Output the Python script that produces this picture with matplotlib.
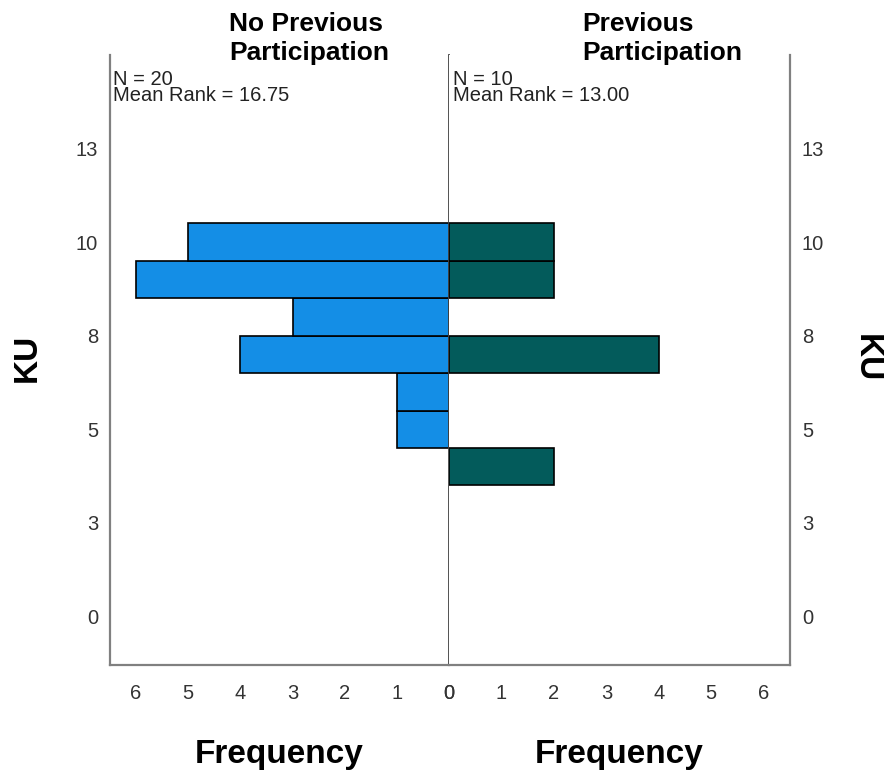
import numpy as np
import matplotlib.pyplot as plt

plt.rcParams['font.family'] = ['Liberation Sans', 'DejaVu Sans']

# KU score bins and frequency per group
ku_no_prev = [5, 6, 7, 8, 9, 10]
freq_no_prev = [1, 1, 4, 3, 6, 5]
ku_prev = [4, 7, 9, 10]
freq_prev = [2, 4, 2, 2]

mean_rank_no_prev = 16.75
mean_rank_prev = 13.00

y_ticks = [0, 2.5, 5, 7.5, 10, 12.5]
y_ticklabels = ['0', '3', '5', '8', '10', '13']
x_ticks = [0, 1, 2, 3, 4, 5, 6]

blue = '#148ee6'
teal = '#035b5b'
frame = '#808080'

W, H = 893, 772
fig = plt.figure(figsize=(W / 100, H / 100), dpi=100)

def px(x0, y0, x1, y1):
    return [x0 / W, 1 - y1 / H, (x1 - x0) / W, (y1 - y0) / H]

ax1 = fig.add_axes(px(110, 55, 449, 665))
ax2 = fig.add_axes(px(449, 55, 790, 665))

ax1.barh(ku_no_prev, freq_no_prev, height=1.0, color=blue, edgecolor='black', linewidth=1.2, zorder=2)
ax2.barh(ku_prev, freq_prev, height=1.0, color=teal, edgecolor='black', linewidth=1.2, zorder=2)

ax1.set_xlim(6.5, 0)
ax2.set_xlim(0, 6.5)
for ax in (ax1, ax2):
    ax.set_ylim(-1.3, 15.0)
    ax.set_xticks(x_ticks)
    ax.set_xticklabels([str(t) for t in x_ticks])
    ax.set_yticks(y_ticks)
    ax.set_yticklabels(y_ticklabels)
    ax.tick_params(length=0, labelsize=14.5, labelcolor='#333333')
    ax.tick_params(axis='x', pad=14)
    ax.tick_params(axis='y', pad=8.5)
    ax.spines['top'].set_visible(False)
    for s in ('left', 'right', 'bottom'):
        ax.spines[s].set_color(frame)
        ax.spines[s].set_linewidth(1.6)

ax1.spines['right'].set_color('#444444')
ax1.spines['right'].set_linewidth(1.3)
ax1.spines['right'].set_zorder(3)
ax2.spines['left'].set_visible(False)
ax2.yaxis.tick_right()

# group headers
title_kw = dict(fontsize=19, fontweight='bold', ha='left', va='baseline')
fig.text(229 / W, 1 - 31 / H, 'No Previous', **title_kw)
fig.text(229 / W, 1 - 60 / H, 'Participation', **title_kw)
fig.text(582 / W, 1 - 31 / H, 'Previous', **title_kw)
fig.text(582 / W, 1 - 60 / H, 'Participation', **title_kw)

# sample size and mean rank, two tight lines per group (baseline = last line)
info_kw = dict(fontsize=14.5, ha='left', va='baseline', color='#222222', linespacing=0.8)
fig.text(113 / W, 1 - 101 / H,
         f'N = {sum(freq_no_prev)}\nMean Rank = {mean_rank_no_prev:.2f}', **info_kw)
fig.text(453 / W, 1 - 101 / H,
         f'N = {sum(freq_prev)}\nMean Rank = {mean_rank_prev:.2f}', **info_kw)

# axis titles
lab_kw = dict(fontsize=24, fontweight='bold', ha='center')
fig.text(279.5 / W, 1 - 763 / H, 'Frequency', va='baseline', **lab_kw)
fig.text(619.5 / W, 1 - 763 / H, 'Frequency', va='baseline', **lab_kw)
fig.text(27 / W, 1 - 358 / H, 'KU', va='center', rotation=90, **lab_kw)
fig.text(866 / W, 1 - 358 / H, 'KU', va='center', rotation=270, **lab_kw)

fig.savefig('out.png', dpi=100)
